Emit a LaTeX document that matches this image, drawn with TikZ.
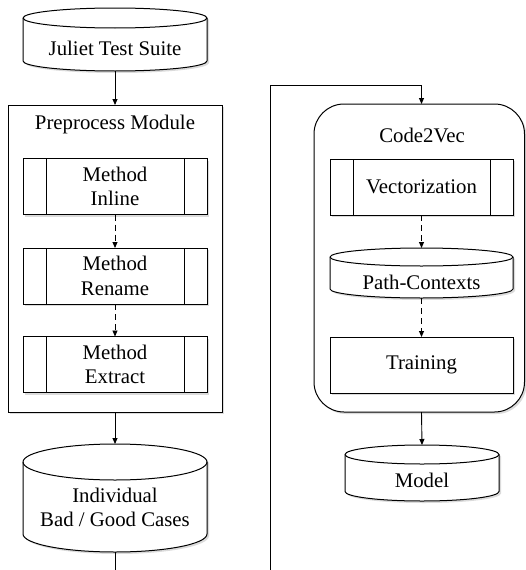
\documentclass[tikz,border=0pt]{standalone}
\usepackage{fontspec}
\setmainfont{Liberation Serif}
\usetikzlibrary{arrows.meta,shadows,calc}

\tikzset{
  every node/.style={outer sep=0pt},
  lbl/.style={font=\fontsize{20.8}{24.5}\selectfont, align=center, inner sep=0pt},
  soft shadow/.style={drop shadow={opacity=0.2, shadow xshift=2pt, shadow yshift=-2pt, fill=black!70}},
  frame/.style={draw, line width=1pt, fill=white, soft shadow},
  stepbox/.style={frame, lbl, minimum width=184, minimum height=56},
  drumbox/.style={inner sep=0pt},
  drumline/.style={line width=1pt},
  flow/.style={draw, line width=0.9pt, -{Triangle[length=6pt,width=5pt]}},
  dflow/.style={flow, dash pattern=on 6pt off 4pt},
}

% two inner bars of a predefined-process box
\newcommand\sidebars[1]{%
  \draw[line width=1pt] ([xshift=23pt]#1.north west) -- ([xshift=23pt]#1.south west)
    ([xshift=-23pt]#1.north east) -- ([xshift=-23pt]#1.south east);}

% database drum around node #1, half-width #2, ellipse half-height #3
\newcommand\drawdrum[3]{%
  \fill[black!70, opacity=0.2, transform canvas={shift={(2pt,-2pt)}}]
    ([yshift=-#3]#1.north west) arc[start angle=180,end angle=0,x radius=#2,y radius=#3]
    -- ([yshift=#3]#1.south east) arc[start angle=0,end angle=-180,x radius=#2,y radius=#3] -- cycle;
  \draw[drumline, fill=white]
    ([yshift=-#3]#1.north west) arc[start angle=180,end angle=0,x radius=#2,y radius=#3]
    -- ([yshift=#3]#1.south east) arc[start angle=0,end angle=-180,x radius=#2,y radius=#3] -- cycle;
  \draw[drumline] ([yshift=-#3]#1.north west) arc[start angle=180,end angle=360,x radius=#2,y radius=#3];}

\begin{document}
\begin{tikzpicture}[x=1pt, y=1pt]
  \useasboundingbox (0,0) rectangle (526,-570);
  \fill[white] (0,0) rectangle (526,-570);
  \clip (0,0) rectangle (526,-570);

  % ---- left column ----
  \node[drumbox, minimum width=184, minimum height=63] (juliet) at (115,-39.5) {};
  \drawdrum{juliet}{92pt}{10pt}
  \node[lbl] (juliettext) at (115,-48) {Juliet Test Suite};

  \node[frame, minimum width=214, minimum height=307] (pre) at (115,-258.5) {};
  \node[lbl] (pretitle) at (115,-124) {Preprocess Module};

  \node[stepbox] (inline) at (115,-186.5) {Method\\Inline};
  \sidebars{inline}
  \node[stepbox] (rename) at (115,-276) {Method\\Rename};
  \sidebars{rename}
  \node[stepbox] (extract) at (115,-364.5) {Method\\Extract};
  \sidebars{extract}

  \node[drumbox, minimum width=184, minimum height=108] (cases) at (115,-498) {};
  \drawdrum{cases}{92pt}{18pt}
  \node[lbl] (casestext) at (115,-507.5) {Individual\\Bad / Good Cases};

  % ---- right column ----
  \node[frame, rounded corners=30pt, minimum width=210.5, minimum height=308] (code) at (419.25,-258) {};
  \node[lbl] (codetitle) at (422,-135) {Code2Vec};

  \node[stepbox, minimum width=183] (vec) at (421.5,-187) {Vectorization};
  \sidebars{vec}

  \node[drumbox, minimum width=183, minimum height=50] (paths) at (421.5,-273) {};
  \drawdrum{paths}{91.5pt}{9pt}
  \node[lbl] (pathstext) at (421.5,-282) {Path-Contexts};

  \node[stepbox, minimum width=183] (train) at (421.5,-365) {Training};

  \node[drumbox, minimum width=154, minimum height=56] (model) at (422,-473) {};
  \drawdrum{model}{77pt}{9.5pt}
  \node[lbl] (modeltext) at (422,-480) {Model};

  % ---- connectors ----
  \coordinate (belowpage) at (115,-600);
  \coordinate (bend) at (270,-85);
  \draw[flow] (juliet.south) -- (pre.north);
  \draw[dflow] (inline.south) -- (rename.north);
  \draw[dflow] (rename.south) -- (extract.north);
  \draw[flow] (pre.south) -- (cases.north);
  \draw[flow] (cases.south) -- (cases.south |- belowpage) -| (bend) -| (vec.north |- code.north);
  \draw[dflow] (vec.south) -- (paths.north);
  \draw[dflow] (paths.south) -- (train.north);
  \draw[flow] (vec.south |- code.south) -- (model.north);
\end{tikzpicture}
\end{document}
